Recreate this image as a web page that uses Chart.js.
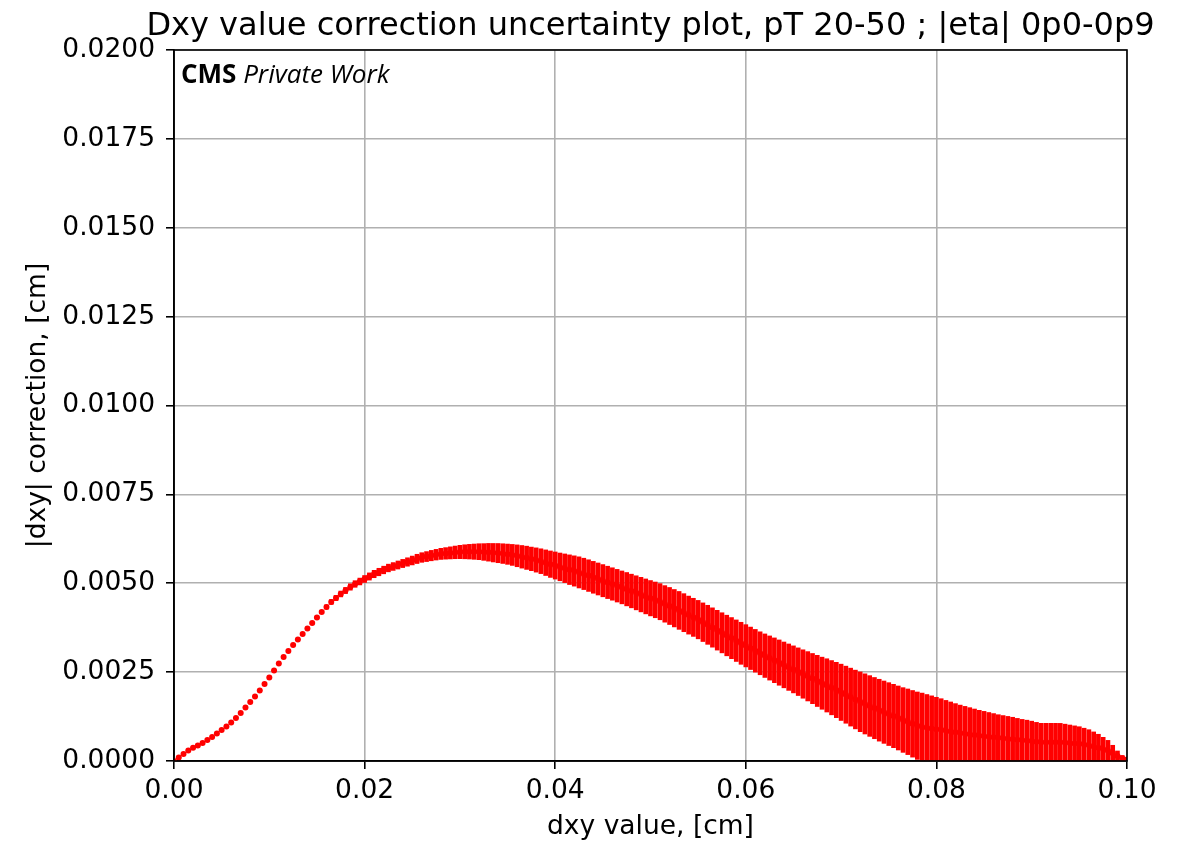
<!DOCTYPE html>
<html>
<head>
<meta charset="utf-8">
<script src="https://cdn.jsdelivr.net/npm/chart.js@4.4.1/dist/chart.umd.min.js"></script>
<style>
  html, body { margin: 0; padding: 0; background: #ffffff; }
  #c { display: block; }
</style>
</head>
<body>
<canvas id="c" width="1184" height="843"></canvas>
<script>
// ---- Data ----
const dxyValues = [
  0,0.0005,0.001,0.0015,0.002,0.0025,0.003,0.0035,0.004,0.0045,
  0.005,0.0055,0.006,0.0065,0.007,0.0075,0.008,0.0085,0.009,0.0095,
  0.01,0.0105,0.011,0.0115,0.012,0.0125,0.013,0.0135,0.014,0.0145,
  0.015,0.0155,0.016,0.0165,0.017,0.0175,0.018,0.0185,0.019,0.0195,
  0.02,0.0205,0.021,0.0215,0.022,0.0225,0.023,0.0235,0.024,0.0245,
  0.025,0.0255,0.026,0.0265,0.027,0.0275,0.028,0.0285,0.029,0.0295,
  0.03,0.0305,0.031,0.0315,0.032,0.0325,0.033,0.0335,0.034,0.0345,
  0.035,0.0355,0.036,0.0365,0.037,0.0375,0.038,0.0385,0.039,0.0395,
  0.04,0.0405,0.041,0.0415,0.042,0.0425,0.043,0.0435,0.044,0.0445,
  0.045,0.0455,0.046,0.0465,0.047,0.0475,0.048,0.0485,0.049,0.0495,
  0.05,0.0505,0.051,0.0515,0.052,0.0525,0.053,0.0535,0.054,0.0545,
  0.055,0.0555,0.056,0.0565,0.057,0.0575,0.058,0.0585,0.059,0.0595,
  0.06,0.0605,0.061,0.0615,0.062,0.0625,0.063,0.0635,0.064,0.0645,
  0.065,0.0655,0.066,0.0665,0.067,0.0675,0.068,0.0685,0.069,0.0695,
  0.07,0.0705,0.071,0.0715,0.072,0.0725,0.073,0.0735,0.074,0.0745,
  0.075,0.0755,0.076,0.0765,0.077,0.0775,0.078,0.0785,0.079,0.0795,
  0.08,0.0805,0.081,0.0815,0.082,0.0825,0.083,0.0835,0.084,0.0845,
  0.085,0.0855,0.086,0.0865,0.087,0.0875,0.088,0.0885,0.089,0.0895,
  0.09,0.0905,0.091,0.0915,0.092,0.0925,0.093,0.0935,0.094,0.0945,
  0.095,0.0955,0.096,0.0965,0.097,0.0975,0.098,0.0985,0.099,0.0995,
  0.1
];

const corrCentral = [
  0,0.000098,0.000197,0.000295,0.000371,0.000436,0.000506,0.000591,0.000675,0.000774,
  0.000872,0.000970,0.001083,0.001210,0.001350,0.001505,0.001660,0.001814,0.001983,0.002166,
  0.002349,0.002546,0.002743,0.002925,0.003094,0.003263,0.003418,0.003572,0.003727,0.003882,
  0.004037,0.004191,0.004332,0.004473,0.004585,0.004698,0.004796,0.004895,0.004979,0.005049,
  0.005120,0.005190,0.005260,0.005316,0.005373,0.005429,0.005471,0.005513,0.005556,0.005598,
  0.005640,0.005685,0.005724,0.005750,0.005778,0.005803,0.005826,0.005840,0.005854,0.005868,
  0.005879,0.005885,0.005888,0.005888,0.005888,0.005879,0.005871,0.005859,0.005848,0.005834,
  0.005817,0.005797,0.005772,0.005744,0.005716,0.005685,0.005654,0.005620,0.005578,0.005536,
  0.005499,0.005460,0.005421,0.005381,0.005345,0.005305,0.005263,0.005215,0.005167,0.005120,
  0.005072,0.005024,0.004979,0.004931,0.004883,0.004833,0.004782,0.004731,0.004681,0.004630,
  0.004579,0.004532,0.004481,0.004419,0.004360,0.004298,0.004236,0.004172,0.004104,0.004041,
  0.003977,0.003904,0.003831,0.003755,0.003679,0.003606,0.003530,0.003457,0.003384,0.003311,
  0.003241,0.003170,0.003100,0.003030,0.002962,0.002897,0.002833,0.002768,0.002703,0.002639,
  0.002577,0.002512,0.002447,0.002383,0.002318,0.002253,0.002188,0.002127,0.002062,0.001997,
  0.001932,0.001865,0.001797,0.001730,0.001665,0.001606,0.001547,0.001488,0.001429,0.001373,
  0.001319,0.001266,0.001210,0.001153,0.001103,0.001046,0.000993,0.000955,0.000935,0.000916,
  0.000896,0.000876,0.000852,0.000830,0.000807,0.000786,0.000768,0.000750,0.000731,0.000713,
  0.000698,0.000682,0.000667,0.000651,0.000639,0.000627,0.000615,0.000599,0.000585,0.000574,
  0.000560,0.000543,0.000530,0.000530,0.000530,0.000530,0.000529,0.000518,0.000506,0.000494,
  0.000482,0.000461,0.000440,0.000409,0.000376,0.000333,0.000290,0.000221,0.000141,0.000077,
  0.000042
];

const corrUncertainty = [
  0,0,0,0,0,0,0,0,0,0,
  0,0,0,0,0,0,0,0,0,0,
  0,0,0,0,0,0,0,0,0.000014,0.000028,
  0.000037,0.000045,0.000056,0.000065,0.000073,0.000082,0.000087,0.000090,0.000093,0.000096,
  0.000098,0.000101,0.000104,0.000105,0.000107,0.000108,0.000110,0.000113,0.000115,0.000118,
  0.000124,0.000130,0.000135,0.000140,0.000146,0.000150,0.000156,0.000162,0.000170,0.000178,
  0.000188,0.000197,0.000206,0.000215,0.000224,0.000235,0.000249,0.000260,0.000270,0.000277,
  0.000285,0.000295,0.000307,0.000318,0.000327,0.000332,0.000341,0.000349,0.000360,0.000372,
  0.000381,0.000390,0.000403,0.000417,0.000426,0.000438,0.000441,0.000445,0.000448,0.000450,
  0.000453,0.000455,0.000456,0.000459,0.000462,0.000469,0.000473,0.000479,0.000486,0.000491,
  0.000497,0.000502,0.000508,0.000514,0.000521,0.000526,0.000533,0.000535,0.000535,0.000536,
  0.000540,0.000543,0.000549,0.000553,0.000559,0.000564,0.000571,0.000578,0.000584,0.000591,
  0.000594,0.000597,0.000601,0.000604,0.000612,0.000621,0.000629,0.000637,0.000644,0.000653,
  0.000661,0.000670,0.000681,0.000694,0.000706,0.000720,0.000733,0.000749,0.000763,0.000778,
  0.000792,0.000803,0.000815,0.000826,0.000840,0.000846,0.000854,0.000861,0.000870,0.000877,
  0.000884,0.000891,0.000900,0.000910,0.000923,0.000937,0.000948,0.000955,0.000935,0.000916,
  0.000896,0.000876,0.000852,0.000830,0.000807,0.000786,0.000768,0.000750,0.000731,0.000713,
  0.000698,0.000682,0.000667,0.000651,0.000639,0.000627,0.000615,0.000599,0.000585,0.000574,
  0.000560,0.000543,0.000530,0.000530,0.000530,0.000530,0.000529,0.000518,0.000506,0.000494,
  0.000482,0.000461,0.000440,0.000409,0.000376,0.000333,0.000290,0.000221,0.000141,0.000077,
  0.000042
];

const xTickLabels = ['0.00', '0.02', '0.04', '0.06', '0.08', '0.10'];
const yTickLabels = ['0.0000', '0.0025', '0.0050', '0.0075', '0.0100', '0.0125', '0.0150', '0.0175', '0.0200'];

const chartTitle = 'Dxy value correction uncertainty plot, pT 20-50 ; |eta| 0p0-0p9';
const xAxisTitle = 'dxy value, [cm]';
const yAxisTitle = '|dxy| correction, [cm]';
const labelBold = 'CMS';
const labelItalic = 'Private Work';

// ---- Build datasets ----
const errorBars = dxyValues.map((x, i) => ({ x: x, y: [corrCentral[i] - corrUncertainty[i], corrCentral[i] + corrUncertainty[i]] }));
const centralPoints = dxyValues.map((x, i) => ({ x: x, y: corrCentral[i] }));

const RED = '#ff0000';
const FONT = "'DejaVu Sans', sans-serif";

const frameTitleAndLabel = {
  id: 'frameTitleAndLabel',
  afterDraw(chart) {
    const { ctx, chartArea } = chart;
    ctx.save();
    // full axes frame
    ctx.strokeStyle = '#000000';
    ctx.lineWidth = 1.6;
    ctx.strokeRect(chartArea.left, chartArea.top, chartArea.right - chartArea.left, chartArea.bottom - chartArea.top);
    // title, centred over the plot area
    ctx.fillStyle = '#000000';
    ctx.textAlign = 'center';
    ctx.textBaseline = 'alphabetic';
    ctx.font = "32px " + FONT;
    ctx.fillText(chartTitle, (chartArea.left + chartArea.right) / 2, 35);
    // CMS Private Work label
    ctx.textAlign = 'left';
    const x0 = chartArea.left + 7;
    const y0 = chartArea.top + 33;
    ctx.font = "bold 26px 'Open Sans', 'Noto Sans', sans-serif";
    ctx.fillText(labelBold, x0, y0);
    const w = ctx.measureText(labelBold + ' ').width;
    ctx.font = "italic 26px 'Open Sans', 'Noto Sans', sans-serif";
    ctx.fillText(labelItalic, x0 + w, y0);
    ctx.restore();
  }
};

new Chart(document.getElementById('c'), {
  data: {
    datasets: [
      {
        type: 'bar',
        data: errorBars,
        backgroundColor: RED,
        borderWidth: 0,
        barThickness: 4,
        grouped: false,
        order: 2
      },
      {
        type: 'scatter',
        data: centralPoints,
        showLine: false,
        pointRadius: 3,
        pointHoverRadius: 3,
        pointBackgroundColor: RED,
        pointBorderWidth: 0,
        order: 1
      }
    ]
  },
  options: {
    responsive: false,
    animation: false,
    events: [],
    layout: { padding: { left: 0, right: 57, top: 50, bottom: 0 } },
    plugins: {
      legend: { display: false },
      tooltip: { enabled: false },
      title: { display: false }
    },
    scales: {
      x: {
        type: 'linear',
        min: 0,
        max: 0.1,
        offset: false,
        afterFit(scale) { scale.height = 82; },
        afterBuildTicks(scale) { scale.ticks = xTickLabels.map(t => ({ value: parseFloat(t) })); },
        ticks: {
          callback: (v, i) => xTickLabels[i],
          color: '#000000',
          font: { family: FONT, size: 26.5 },
          padding: 6,
          maxRotation: 0,
          autoSkip: false
        },
        grid: {
          offset: false,
          color: '#b0b0b0',
          lineWidth: 1.6,
          tickColor: '#000000',
          tickLength: 8,
          tickWidth: 1.6
        },
        border: { display: true, color: '#000000', width: 1.6 },
        title: {
          display: true,
          text: xAxisTitle,
          color: '#000000',
          font: { family: FONT, size: 26.5 },
          padding: { top: 0, bottom: 0 }
        }
      },
      y: {
        type: 'linear',
        min: 0,
        max: 0.02,
        afterFit(scale) { scale.width = 174; },
        afterBuildTicks(scale) { scale.ticks = yTickLabels.map(t => ({ value: parseFloat(t) })); },
        ticks: {
          callback: (v, i) => yTickLabels[i],
          color: '#000000',
          font: { family: FONT, size: 26.5 },
          padding: 11,
          autoSkip: false
        },
        grid: {
          color: '#b0b0b0',
          lineWidth: 1.6,
          tickColor: '#000000',
          tickLength: 8,
          tickWidth: 1.6
        },
        border: { display: true, color: '#000000', width: 1.6 },
        title: {
          display: true,
          text: yAxisTitle,
          color: '#000000',
          font: { family: FONT, size: 26.5 },
          padding: { top: 22, bottom: 0 }
        }
      }
    }
  },
  plugins: [frameTitleAndLabel]
});
</script>
</body>
</html>
